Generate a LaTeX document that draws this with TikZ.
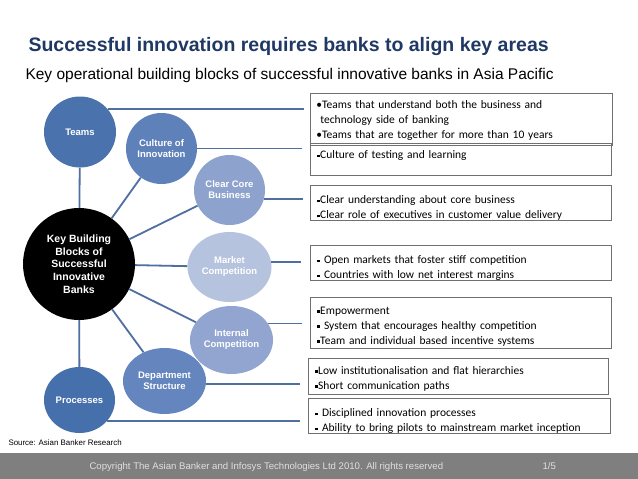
\documentclass[tikz,border=0pt]{standalone}
\usepackage{fontspec}
\setmainfont{Liberation Sans}
\newfontfamily\boxfont{Carlito}
\usetikzlibrary{shapes.geometric}
\definecolor{titleblue}{HTML}{1F3864}
\definecolor{teamsblue}{HTML}{4A72AC}
\definecolor{cultureblue}{HTML}{5F81BA}
\definecolor{clearblue}{HTML}{8DA2CD}
\definecolor{marketblue}{HTML}{B6C3DF}
\definecolor{internalblue}{HTML}{91A5D0}
\definecolor{deptblue}{HTML}{6485BE}
\definecolor{procblue}{HTML}{4670AC}
\definecolor{linkblue}{HTML}{4F6F9F}
\definecolor{boxgray}{HTML}{707070}
\definecolor{footgray}{HTML}{7F7F7F}
\newcommand{\sqb}{\raisebox{0.28ex}{\rule{2.8pt}{2.8pt}}}
\newcommand{\topgap}[1]{\rule{0pt}{#1}}
\tikzset{
  bubble/.style={ellipse,inner sep=0pt,text=white,align=center,
    font=\bfseries\fontsize{9.5}{11}\selectfont},
  infobox/.style={draw=boxgray,line width=0.8pt,anchor=north west,inner xsep=7pt,
    inner ysep=0pt,align=left,text width=287pt,
    font=\boxfont\fontsize{11.5}{15}\selectfont},
  link/.style={draw=linkblue,line width=1.5pt}
}
\begin{document}
\begin{tikzpicture}[x=1pt,y=-1pt]
\useasboundingbox[fill=white] (0,0) rectangle (638,479);
% headings
\node[anchor=base west,text=titleblue,font=\bfseries\fontsize{19.5}{22}\selectfont] (title) at (25,51) {Successful innovation requires banks to align key areas};
\node[anchor=base west,font=\fontsize{15.5}{18}\selectfont] (subtitle) at (22,79) {Key operational building blocks of successful innovative banks in Asia Pacific};
% centre and bubbles
\node[bubble,fill=black,minimum width=112pt,minimum height=112pt,font=\bfseries\fontsize{10.5}{12.7}\selectfont] (key) at (79,264) {Key Building\\Blocks of\\Successful\\Innovative\\Banks};
\node[bubble,fill=teamsblue,minimum width=72pt,minimum height=71pt] (teams) at (80,132) {Teams};
\node[bubble,fill=cultureblue,minimum width=71pt,minimum height=71pt] (culture) at (161.5,148.5) {Culture of\\Innovation};
\node[bubble,fill=clearblue,minimum width=71pt,minimum height=70pt] (clear) at (229.5,190) {Clear Core\\Business};
\node[bubble,fill=marketblue,minimum width=84pt,minimum height=70pt] (market) at (229.5,267) {Market\\Competition};
\node[bubble,fill=internalblue,minimum width=83pt,minimum height=68pt] (internal) at (231.5,340) {Internal\\Competition};
\node[bubble,fill=deptblue,minimum width=83pt,minimum height=66pt] (dept) at (164.5,381) {Department\\Structure};
\node[bubble,fill=procblue,minimum width=71pt,minimum height=66pt] (proc) at (79.5,400) {Processes};
\foreach \n in {teams,culture,clear,market,internal,dept,proc}
  \draw[link,line width=1.8pt] (key) -- (\n);
% text boxes
\node[infobox,minimum width=302pt,minimum height=52pt,inner xsep=6pt,text width=290pt] (bx1) at (310,93) {\topgap{10pt}•Teams that understand both the business and\\\hspace{4pt}technology side of banking\\•Teams that are together for more than 10 years};
\node[infobox,minimum width=301pt,minimum height=32pt] (bx2) at (310,143) {\rule[-9pt]{0pt}{9pt}\sqb Culture of testing and learning};
\node[infobox,minimum width=301pt,minimum height=32pt] (bx3) at (310,185) {\topgap{18.5pt}\sqb Clear understanding about core business\\\sqb Clear role of executives in customer value delivery};
\node[infobox,minimum width=301pt,minimum height=32pt] (bx4) at (310,245) {\topgap{18.5pt}\sqb\ Open markets that foster stiff competition\\\sqb\ Countries with low net interest margins};
\node[infobox,minimum width=301pt,minimum height=51pt] (bx5) at (310,297) {\topgap{14.5pt}\sqb Empowerment\\\sqb\ System that encourages healthy competition\\\sqb Team and individual based incentive systems};
\node[infobox,minimum width=300pt,minimum height=36pt,text width=286pt] (bx6) at (308,358) {\topgap{13.5pt}\sqb Low institutionalisation and flat hierarchies\\\sqb Short communication paths};
\node[infobox,minimum width=302pt,minimum height=32pt,text width=288pt] (bx7) at (308,398) {\topgap{18.5pt}\sqb\ Disciplined innovation processes\\\sqb\ Ability to bring pilots to mainstream market inception};
% bubbles to boxes
\draw[link,shorten >=6pt] (teams.40) -- (teams.40 -| bx1.west);
\draw[link,shorten >=8pt] (culture.east) -- (culture.east -| bx2.west);
\draw[link,shorten >=7pt] (clear.-15) -- (clear.-15 -| bx3.west);
\draw[link,shorten >=9pt] (market.7) -- (market.7 -| bx4.west);
\draw[link,shorten >=8pt] (internal.24) -- (internal.24 -| bx5.west);
\draw[link,shorten >=8pt] (dept.-4) -- (dept.-4 -| bx6.west);
\draw[link,shorten >=8pt] (proc.-37) -- (proc.-37 -| bx7.west);
% source and footer
\node[anchor=base west,font=\fontsize{7.9}{9}\selectfont] (source) at (5,445) {Source: Asian Banker Research};
\fill[footgray] (0,453) rectangle (638,479);
\node[anchor=base west,text=white!88!black,font=\fontsize{9.6}{11}\selectfont] (copy) at (86,469.5) {Copyright The Asian Banker and Infosys Technologies Ltd 2010. All rights reserved};
\node[anchor=base west,text=white!88!black,font=\fontsize{9.6}{11}\selectfont] (page) at (539,469.5) {1/5};
\end{tikzpicture}
\end{document}
